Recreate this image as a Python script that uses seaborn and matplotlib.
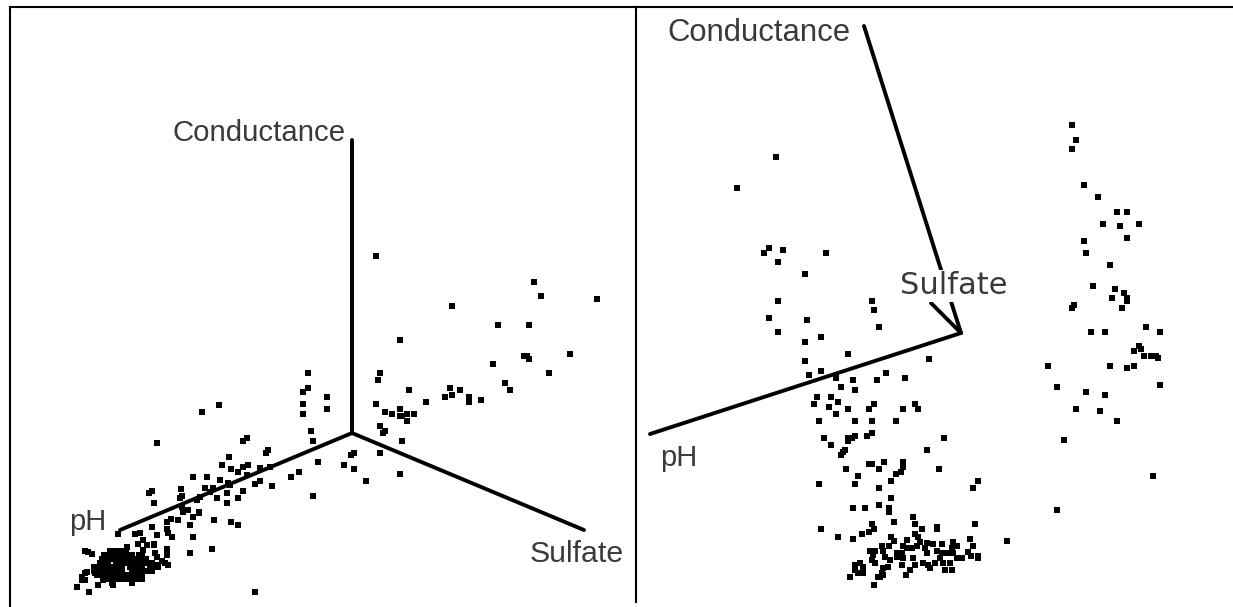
import matplotlib
matplotlib.use('Agg')
import matplotlib.pyplot as plt
import pandas as pd
import seaborn as sns


W, H = 1233, 607
LEFT_BOX = (9.5, 635.7, 6.7, 607)
RIGHT_BOX = (635.7, 1233, 6.7, 602)

# axis ends as projected on screen
LEFT_AXES = {
    'Conductance': ([352, 352], [140, 433]),
    'pH': ([352, 120], [433, 530]),
    'Sulfate': ([352, 584], [433, 530]),
}
RIGHT_AXES = {
    'Conductance': ([864, 961], [26, 333]),
    'pH': ([961, 650], [333, 434]),
    'Sulfate': ([961, 931], [333, 303]),
}

LEFT_SPARSE = [
    (376, 256), (534, 282), (541, 296), (597, 299), (452, 306), (498, 325), (529, 325),
    (400, 340), (570, 354), (524, 356), (527, 356), (529, 359), (493, 364), (549, 373),
    (308, 373), (380, 373), (378, 380), (308, 388), (303, 392), (505, 383), (510, 390),
    (450, 388), (460, 390), (409, 390), (452, 395), (445, 397), (469, 397), (469, 400),
    (469, 402), (481, 400), (327, 397), (327, 409), (303, 404), (303, 414), (426, 402),
    (376, 404), (385, 412), (392, 414), (400, 409), (400, 416), (402, 416), (407, 414),
    (414, 414), (407, 421), (380, 426), (385, 431), (383, 433), (311, 431), (313, 441),
    (402, 441), (354, 453), (351, 455), (380, 453), (318, 462), (344, 465), (354, 469),
    (299, 472), (291, 477), (400, 474), (366, 481), (313, 496),
    (219, 405), (202, 412), (157, 443), (243, 441), (247, 438), (266, 453), (268, 450),
    (229, 457), (222, 465), (231, 469), (238, 472), (243, 467), (248, 465), (193, 477),
    (207, 477), (255, 484), (260, 481), (272, 486), (181, 489), (243, 491), (152, 491),
    (149, 493), (182, 496), (180, 498), (238, 498), (227, 503), (154, 503), (188, 510),
    (199, 512), (199, 513), (193, 517), (214, 520), (231, 522), (238, 525), (190, 525),
    (178, 520), (171, 519), (167, 522), (152, 527), (167, 529), (168, 533), (172, 537),
    (193, 537), (118, 534), (212, 549), (190, 553), (167, 549), (154, 544), (255, 592),
    (217, 498), (213, 488), (220, 480), (200, 497), (205, 488), (230, 485), (227, 493),
    (157, 535), (228, 483), (210, 492), (197, 500), (182, 507), (183, 512), (260, 468),
    (270, 467), (247, 475), (135, 534), (140, 533), (143, 540), (138, 544), (147, 545),
    (127, 547), (143, 550), (154, 545), (155, 553), (157, 557), (167, 555), (168, 565),
    (165, 563), (162, 561), (158, 565), (85, 551), (88, 552), (92, 554), (77, 587),
    (89, 592), (113, 585), (82, 580), (85, 580), (82, 577), (85, 573), (87, 572),
    (95, 568), (95, 573), (98, 585), (103, 580),
]

# the dense lump at the far end of pH, row by row
LEFT_LUMP_ROWS = {
    551: [110, 114, 118, 122, 126],
    555: [104, 108, 112, 116, 120, 124, 128, 132, 139, 142],
    559: [102, 106, 110, 114, 118, 122, 126, 130, 134, 138, 142, 146],
    563: [100, 104, 108, 116, 120, 124, 128, 132, 136, 140, 144, 148, 152],
    567: [94, 98, 102, 106, 110, 114, 118, 122, 130, 134, 138, 142, 150, 154, 158],
    571: [94, 100, 104, 108, 112, 116, 122, 132, 136, 140, 144, 148, 152],
    575: [97, 102, 106, 110, 114, 118, 122, 126, 130, 134, 138, 142],
    579: [103, 108, 112, 116, 120, 124, 128, 132, 138, 142],
    583: [112, 132],
}

RIGHT_UPPER = [
    (776, 157), (737, 188), (769, 248), (764, 253), (783, 250), (778, 262), (826, 253),
    (805, 274), (778, 301), (872, 301), (874, 310), (769, 318), (807, 320), (879, 327),
    (778, 332), (821, 337), (805, 342), (848, 354), (805, 361), (929, 359), (821, 371),
    (809, 375), (886, 373), (836, 378), (853, 380), (877, 380), (905, 378), (841, 387),
    (855, 390), (817, 397), (831, 397), (838, 402), (814, 404), (829, 407), (848, 409),
    (836, 414), (874, 404), (869, 409), (903, 409), (915, 404), (918, 409), (819, 421),
    (855, 421), (872, 421), (896, 421), (824, 438), (831, 445), (848, 438), (848, 441),
    (852, 438), (855, 436), (867, 436), (872, 433), (944, 438), (927, 450), (845, 450),
    (843, 452), (841, 455), (884, 462), (869, 464), (872, 464), (903, 462), (903, 467),
    (846, 469), (879, 469), (901, 472), (896, 474), (939, 469), (858, 476), (891, 481),
    (855, 484), (819, 484), (978, 481), (973, 488), (879, 488), (891, 498), (853, 508),
    (865, 508), (879, 505), (889, 508), (889, 512), (913, 517), (915, 524), (894, 522),
    (872, 524), (874, 529), (869, 532), (922, 529), (937, 527), (937, 529), (975, 524),
    (821, 529), (838, 537), (853, 539), (862, 534), (891, 537), (894, 541), (915, 534),
    (1007, 541), (970, 539),
]

RIGHT_LUMP = [
    (907, 540), (918, 537), (920, 542), (927, 543), (933, 544), (942, 544), (953, 542),
    (957, 546), (973, 546), (968, 552), (971, 556), (978, 556), (978, 558), (870, 551),
    (875, 551), (873, 555), (872, 560), (875, 563), (882, 546), (883, 551), (889, 546),
    (903, 546), (897, 553), (902, 553), (907, 548), (912, 548), (917, 546), (925, 548),
    (927, 553), (937, 551), (942, 553), (947, 553), (952, 548), (953, 553), (885, 557),
    (890, 560), (888, 567), (897, 557), (903, 558), (902, 565), (913, 558), (915, 565),
    (923, 563), (928, 565), (930, 568), (935, 563), (940, 558), (943, 563), (945, 570),
    (950, 563), (952, 570), (957, 558), (962, 558), (883, 568), (882, 573), (878, 577),
    (874, 585), (906, 575), (910, 570), (850, 577), (855, 565), (860, 563), (855, 570),
    (858, 573), (863, 573), (863, 567), (880, 577), (883, 575),
]

RIGHT_SIDE = [
    (1072, 125), (1076, 140), (1072, 149), (1084, 185), (1098, 197), (1117, 212),
    (1127, 212), (1103, 224), (1120, 226), (1139, 224), (1127, 238), (1084, 241),
    (1086, 253), (1110, 265), (1093, 286), (1115, 289), (1124, 293), (1127, 298),
    (1127, 301), (1112, 298), (1122, 308), (1074, 305), (1072, 308), (1146, 327),
    (1091, 332), (1105, 332), (1160, 332), (1139, 346), (1141, 349), (1134, 351),
    (1144, 356), (1151, 356), (1153, 356), (1156, 356), (1158, 358), (1048, 366),
    (1110, 366), (1134, 366), (1127, 368), (1057, 387), (1160, 385), (1086, 392),
    (1105, 395), (1076, 409), (1100, 411), (1117, 421), (1064, 440), (1153, 476),
    (1057, 510),
]


def make_axes(fig, box):
    x0, x1, y0, y1 = box
    ax = fig.add_axes([x0 / W, 1 - y1 / H, (x1 - x0) / W, (y1 - y0) / H])
    ax.set_xlim(x0, x1)
    ax.set_ylim(y1, y0)
    ax.set_xticks([])
    ax.set_yticks([])
    for side in ['right', 'bottom']:
        ax.spines[side].set_visible(False)
    for side in ['left', 'top']:
        ax.spines[side].set_linewidth(1.5)
        ax.spines[side].set_color('black')
    return ax


def draw_panel(ax, points, axis_lines):
    df = pd.DataFrame(points, columns=['x', 'y'])
    sns.scatterplot(data=df, x='x', y='y', ax=ax, marker='s', s=15, color='black',
                    linewidth=0, legend=False)
    for xs, ys in axis_lines.values():
        sns.lineplot(x=xs, y=ys, ax=ax, sort=False, estimator=None, color='black',
                     linewidth=2.8, zorder=3)
    ax.set_xlabel('')
    ax.set_ylabel('')


def label(ax, x, y, text, size, family='Liberation Sans', cover=False):
    kwargs = {}
    if cover:
        kwargs['bbox'] = dict(facecolor='white', edgecolor='none', pad=1)
    ax.text(x, y, text, fontsize=size, family=family, color='#3a3a3a', ha='left',
            va='center', zorder=5, **kwargs)


def main():
    sns.set_style('white')
    plt.rcParams['font.family'] = ['Liberation Sans', 'DejaVu Sans']

    lump = [(x, y) for y, xs in LEFT_LUMP_ROWS.items() for x in xs]

    fig = plt.figure(figsize=(W / 100, H / 100), dpi=100)
    left = make_axes(fig, LEFT_BOX)
    right = make_axes(fig, RIGHT_BOX)

    draw_panel(left, LEFT_SPARSE + lump, LEFT_AXES)
    draw_panel(right, RIGHT_UPPER + RIGHT_LUMP + RIGHT_SIDE, RIGHT_AXES)

    label(left, 172, 133, 'Conductance', 21.2)
    label(left, 69, 522, 'pH', 21)
    label(left, 530, 554, 'Sulfate', 21.8)
    label(right, 667, 33, 'Conductance', 22.3)
    label(right, 900, 286, 'Sulfate', 22, family='DejaVu Sans', cover=True)
    label(right, 660, 458, 'pH', 21)

    fig.savefig('out.png', dpi=100)
    plt.close(fig)


if __name__ == '__main__':
    main()
